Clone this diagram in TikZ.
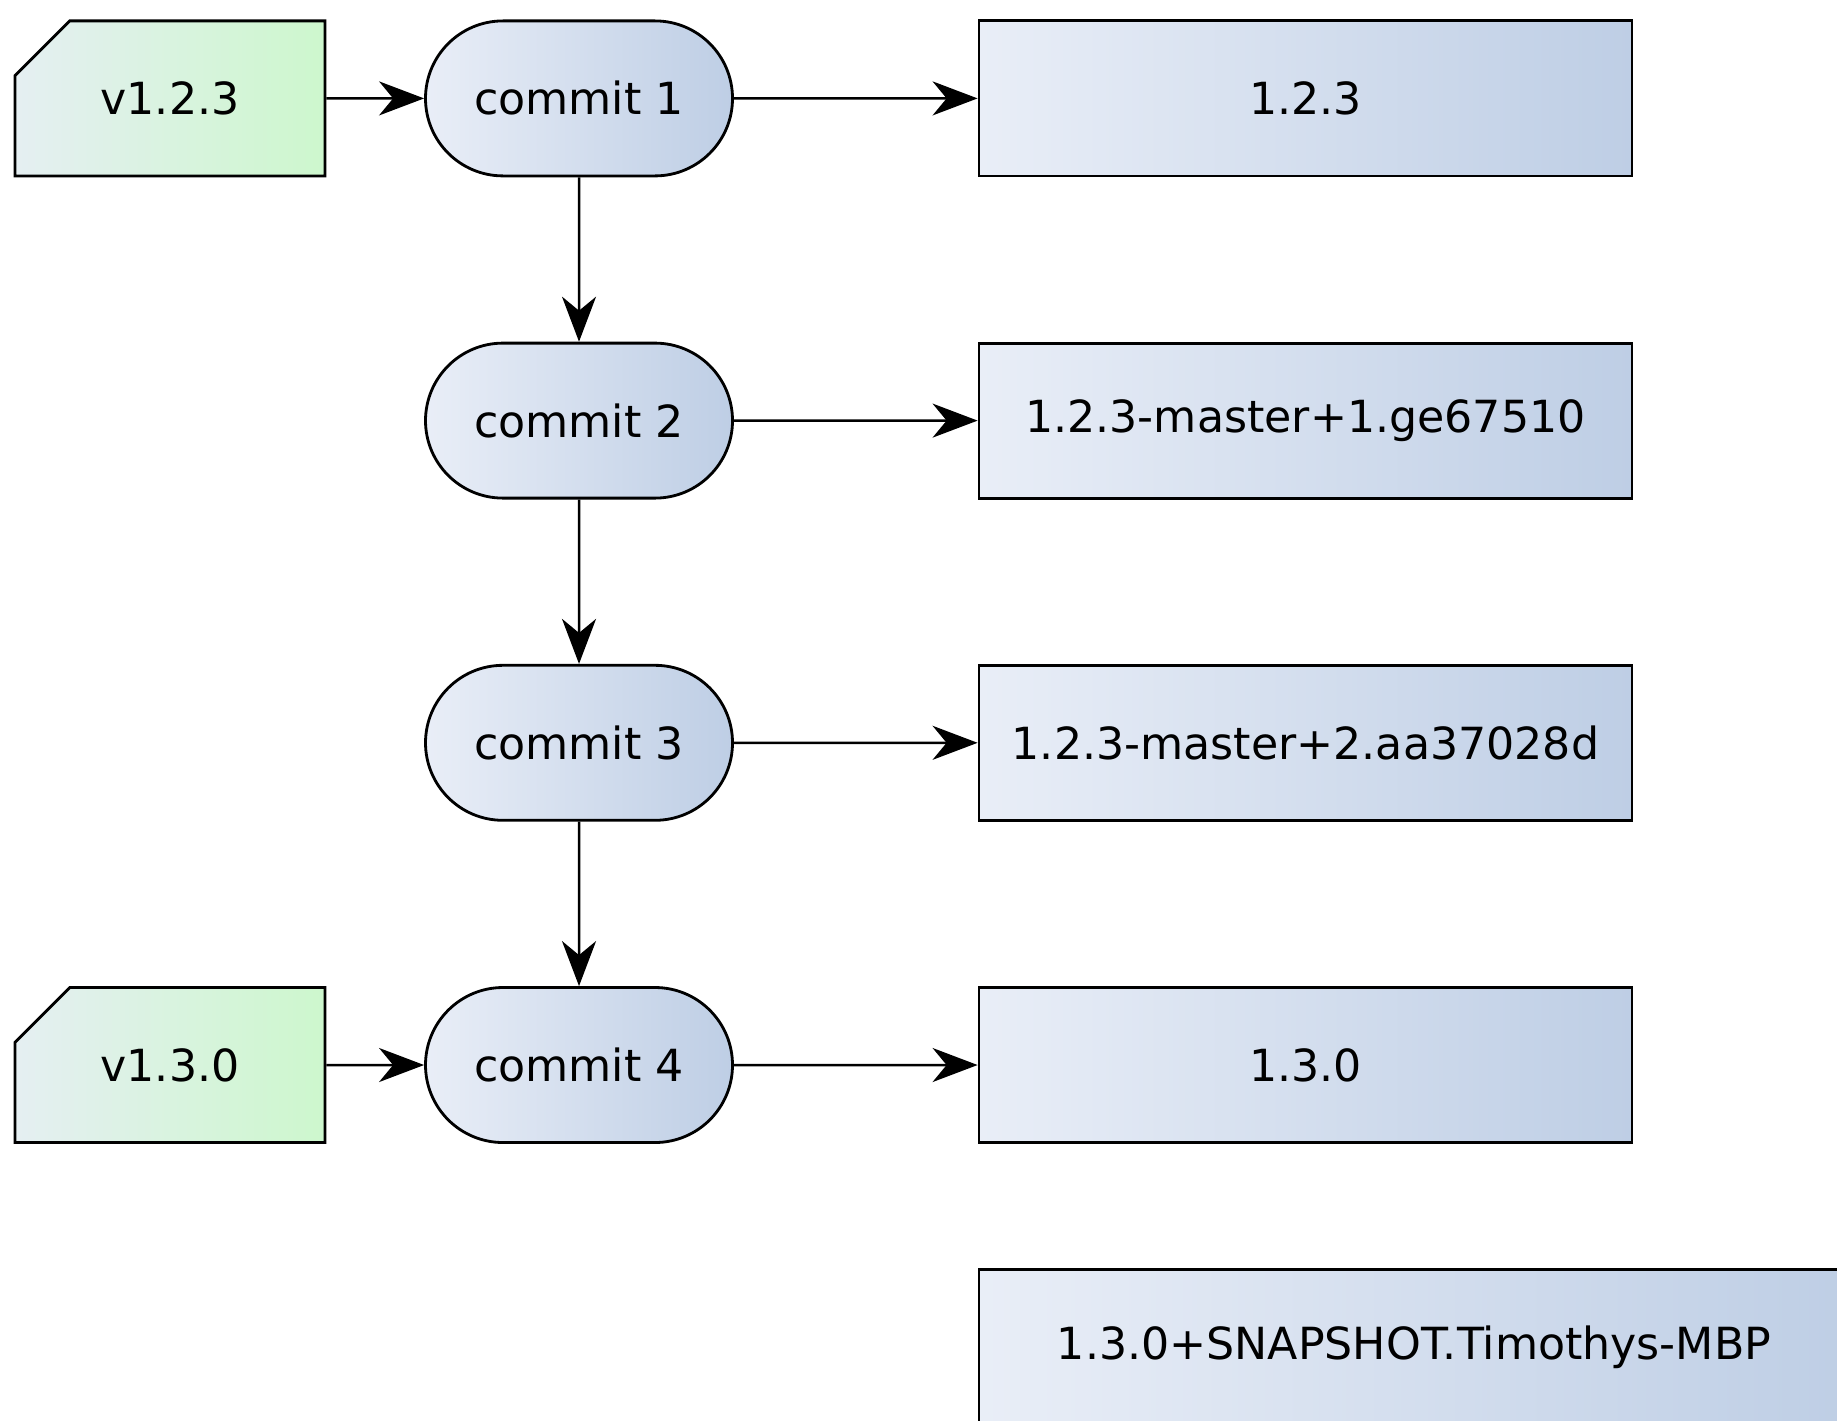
\documentclass[tikz,border=0pt]{standalone}
\usepackage{fontspec}
\setmainfont{DejaVu Sans}
\usepackage{xcolor}
\usepackage{tikz}
\usetikzlibrary{arrows.meta, shapes.misc}

\definecolor{boxleft}{RGB}{233,238,247}
\definecolor{boxright}{RGB}{190,206,229}
\definecolor{tagleft}{RGB}{229,239,242}
\definecolor{tagright}{RGB}{205,247,205}

\tikzset{
	commit/.style={rounded rectangle, draw, line width=0.8pt, minimum width=3.07cm, minimum height=1.55cm, left color=boxleft, right color=boxright, inner sep=0pt},
	version/.style={rectangle, draw, line width=0.8pt, minimum width=6.53cm, minimum height=1.55cm, left color=boxleft, right color=boxright, inner sep=0pt},
	tag/.style={chamfered rectangle, chamfered rectangle corners=north west, chamfered rectangle xsep=0.38cm, chamfered rectangle ysep=0.38cm, draw, line width=0.8pt, minimum width=3.10cm, minimum height=1.55cm, left color=tagleft, right color=tagright, inner sep=0pt},
	arr/.style={-{Stealth[length=0.45cm, width=0.34cm, inset=0.14cm]}, line width=0.7pt},
}

\begin{document}
\begin{tikzpicture}[font=\fontsize{12.6}{15}\selectfont]
			% Paths, nodes and wires:
			\useasboundingbox (0, 0) rectangle (18.37, -14.2);
			\node[commit](C1) at (5.79, -0.984){commit 1};
			\node[commit](C2) at (5.79, -4.206){commit 2};
			\node[commit](C3) at (5.79, -7.428){commit 3};
			\node[commit](C4) at (5.79, -10.65){commit 4};
			\node[tag](T1) at (1.70, -0.984){v1.2.3};
			\node[tag](T2) at (1.70, -10.65){v1.3.0};
			\node[version](V1) at (13.055, -0.984){1.2.3};
			\node[version](V2) at (13.055, -4.206){1.2.3-master+1.ge67510};
			\node[version](V3) at (13.055, -7.428){1.2.3-master+2.aa37028d};
			\node[version](V4) at (13.055, -10.65){1.3.0};
			\node[version, minimum width=8.7cm](V5) at (14.14, -13.47){1.3.0+SNAPSHOT.Timothys-MBP};
			\draw[arr] (T1) -- (C1);
			\draw[arr] (T2) -- (C4);
			\draw[arr] (C1) -- (V1);
			\draw[arr] (C2) -- (V2);
			\draw[arr] (C3) -- (V3);
			\draw[arr] (C4) -- (V4);
			\draw[arr] (C1) -- (C2);
			\draw[arr] (C2) -- (C3);
			\draw[arr] (C3) -- (C4);
		\end{tikzpicture}
\end{document}
